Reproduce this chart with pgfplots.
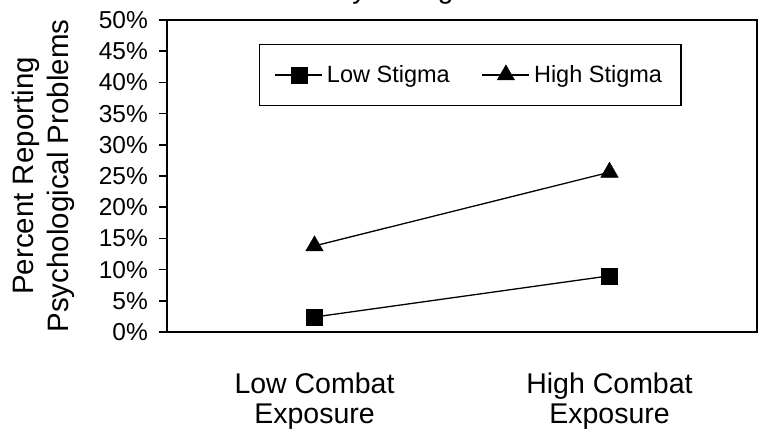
\documentclass[border=0pt]{standalone}
\usepackage{fontspec}
\setmainfont{Liberation Sans}
\usepackage{pgfplots}
\pgfplotsset{compat=1.18}
\begin{document}
\begin{tikzpicture}
\useasboundingbox (0pt,0pt) rectangle (760pt,434pt);
% title, cut off at the top edge as in the source
\node[anchor=base west, inner sep=0pt, font=\fontsize{28}{32}\selectfont] at (265pt,435pt) {Severity of Stigma};
\begin{axis}[at={(167pt,102pt)}, anchor=south west, scale only axis,
  width=590pt, height=312pt,
  xmin=-0.5, xmax=1.5, ymin=0, ymax=50,
  axis line style={line width=1.8pt},
  xtick={0,1}, xticklabels={{Low Combat\\Exposure},{High Combat\\Exposure}},
  xtick style={draw=none},
  xticklabel style={align=center, inner sep=0pt, yshift=-33pt,
    font=\fontsize{28.5}{30}\selectfont},
  ytick={0,5,...,50}, yticklabel={\pgfmathprintnumber{\tick}\%},
  ytick pos=left, tick align=outside, major tick length=8pt,
  ytick style={line width=1.5pt, black},
  yticklabel style={inner sep=0pt, xshift=-11pt, font=\fontsize{24.5}{26}\selectfont},
  /pgf/number format/assume math mode=true,
  every axis y label/.style={at={(rel axis cs:-0.2627,0.5)}, rotate=90, anchor=north,
    inner sep=0pt, align=center, font=\fontsize{29.5}{35}\selectfont},
  ylabel={Percent Reporting\\Psychological Problems},
  legend columns=2,
  legend style={at={(rel axis cs:0.1559,0.9231)}, anchor=north west, draw=black,
    line width=1.4pt, inner xsep=15pt, inner ysep=19pt,
    font=\fontsize{23.5}{26}\selectfont,
    nodes={inner xsep=4pt},
    /tikz/every even column/.append style={column sep=28pt}},
  legend image code/.code={\draw[mark repeat=2,mark phase=2,#1]
    plot coordinates {(0pt,0pt) (23.5pt,0pt) (47pt,0pt)};},
]
\addplot[black, line width=1.3pt, mark=square*, mark size=8pt,
  mark options={line width=0.5pt}] coordinates {(0,2.4) (1,9.0)};
\addlegendentry{Low Stigma}
\addplot[black, line width=1.3pt, mark=triangle*, mark size=10pt,
  mark options={line width=0.5pt}] coordinates {(0,13.8) (1,25.6)};
\addlegendentry{High Stigma}
\end{axis}
\end{tikzpicture}
\end{document}
